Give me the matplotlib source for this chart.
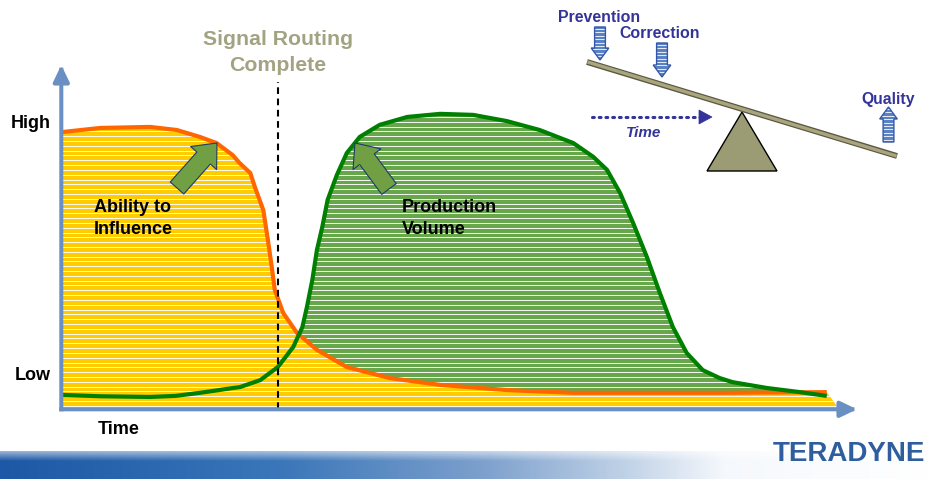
import numpy as np
import matplotlib
matplotlib.use('Agg')
import matplotlib.pyplot as plt
from matplotlib.patches import Polygon, FancyArrowPatch

plt.rcParams['font.family'] = ['Liberation Sans', 'DejaVu Sans']

# ---------------- data (time 0..100, level 0..100) ----------------
ability_t = [0, 5.0, 11.5, 15.0, 18.0, 20.2, 22.3, 23.2, 24.6, 25.2, 26.3, 26.9,
             27.4, 27.8, 28.9, 30.7, 33.3, 37.2, 42.8, 49.4, 58.1, 66.8, 86.0, 99.9]
ability_v = [80.5, 81.7, 82.0, 81.1, 79.1, 77.3, 73.8, 71.5, 68.6, 64.5, 57.8, 49.1,
             41.3, 34.6, 27.9, 22.1, 17.2, 12.2, 9.0, 7.0, 5.5, 4.7, 4.7, 4.9]

volume_t = [0, 5.0, 11.5, 14.8, 18.0, 23.3, 25.9, 28.2, 30.2, 31.4, 32.0, 32.7,
            33.3, 34.0, 34.7, 35.9, 37.2, 38.9, 41.5, 45.1, 49.4, 53.7, 58.1, 62.4,
            66.8, 69.4, 71.2, 72.9, 74.6, 76.4, 78.1, 79.8, 81.6, 83.7, 85.9, 87.6,
            92.1, 96.4, 99.9]
volume_v = [4.1, 3.7, 3.5, 3.8, 4.7, 6.4, 8.4, 12.2, 18.0, 23.8, 29.7, 37.5,
            46.2, 52.9, 60.8, 68.0, 74.4, 79.1, 82.6, 84.9, 85.8, 85.5, 83.7, 81.1,
            77.3, 73.3, 69.5, 62.8, 54.1, 44.2, 33.7, 23.8, 16.3, 11.3, 9.0, 7.8,
            6.1, 4.9, 3.8]

routing_time = 28.2
y_labels = ['High', 'Low']
x_label = 'Time'

# ---------------- styles ----------------
W, H = 929, 479
YELLOW = '#FFCC00'
ORANGE = '#FF6600'
GREEN_LINE = '#008000'
GREEN_FILL = '#68A64C'
AXIS = '#6A8FC3'
NAVY = '#333399'
OLIVE_TXT = '#A3A384'
ARROW_GREEN = '#70A043'

fig = plt.figure(figsize=(W / 100, H / 100), dpi=100)
fig.patch.set_facecolor('white')

ax = fig.add_axes([61.3 / W, (H - 409.3) / H, (857 - 61.3) / W, (409.3 - 65) / H])
ax.set_xlim(-0.09, 103.85)
ax.set_ylim(-0.09, 100)
ax.axis('off')

stripe_y = np.arange(0.9, 100, 1.4)

# production volume area
gpoly = ax.fill(np.r_[volume_t, volume_t[-1], volume_t[0]], np.r_[volume_v, 0, 0],
                color=GREEN_FILL, lw=0, zorder=1)[0]
lc = ax.hlines(stripe_y, -1, 105, colors='white', lw=0.65, zorder=2)
lc.set_clip_path(gpoly)

# ability to influence area
ypoly = ax.fill(np.r_[ability_t, ability_t[-1] + 1.6, ability_t[0]], np.r_[ability_v, 0, 0],
                color=YELLOW, lw=0, zorder=3)[0]
lc2 = ax.hlines(stripe_y, -1, 105, colors='white', lw=0.65, zorder=4)
lc2.set_clip_path(ypoly)

ax.plot(ability_t, ability_v, color=ORANGE, lw=3, zorder=5,
        solid_joinstyle='round', solid_capstyle='butt')
ax.plot(volume_t, volume_v, color=GREEN_LINE, lw=3, zorder=6,
        solid_joinstyle='round', solid_capstyle='butt')

ax.plot([routing_time, routing_time], [0, 95.1], color='black', lw=1.5,
        dashes=(3.2, 2.2), zorder=7)

# axes arrows
for xy in [(0, 1), (1, 0)]:
    ax.annotate('', xy=xy, xytext=(0, 0), xycoords='axes fraction',
                textcoords='axes fraction', annotation_clip=False,
                arrowprops=dict(arrowstyle='-|>,head_length=1.0,head_width=0.48',
                                color=AXIS, lw=2.9, shrinkA=0, shrinkB=0,
                                mutation_scale=10, capstyle='projecting'),
                zorder=8)

# ---------------- overlay (pixel coords) ----------------
ov = fig.add_axes([0, 0, 1, 1])
ov.set_xlim(0, W)
ov.set_ylim(H, 0)
ov.axis('off')
ov.patch.set_alpha(0)

# bottom band gradient
xs = np.linspace(0, 1, 400)
stops_x = [0.0, 0.3, 0.52, 0.68, 0.78, 1.0]
stops_c = np.array([[28, 88, 165], [58, 118, 185], [125, 160, 205],
                    [195, 212, 232], [245, 248, 252], [255, 255, 255]]) / 255.0
row = np.stack([np.interp(xs, stops_x, stops_c[:, i]) for i in range(3)], axis=1)
vy = np.linspace(0, 1, 30)
vfac = np.clip(vy / 0.35, 0, 1)[:, None, None] * 0.55 + 0.45
img = 1 - (1 - row[None, :, :]) * vfac
ov.imshow(img, extent=(0, W, 479, 451), aspect='auto', zorder=0, interpolation='bilinear')

# logo
ov.text(849, 454, 'TERADYNE', ha='center', va='center', fontsize=20, fontweight='bold',
        color='#2F5E9E')

# axis labels
ov.text(51, 123, y_labels[0], ha='right', va='center', fontsize=13, fontweight='bold')
ov.text(51, 375, y_labels[1], ha='right', va='center', fontsize=13, fontweight='bold')
ov.text(98, 429, x_label, ha='left', va='center', fontsize=13, fontweight='bold')

# area labels
ov.text(94, 207, 'Ability to', ha='left', va='center', fontsize=13, fontweight='bold')
ov.text(94, 229, 'Influence', ha='left', va='center', fontsize=13, fontweight='bold')
ov.text(402, 207, 'Production', ha='left', va='center', fontsize=13, fontweight='bold')
ov.text(402, 229, 'Volume', ha='left', va='center', fontsize=13, fontweight='bold')

ov.text(278, 39, 'Signal Routing', ha='center', va='center', fontsize=15.3,
        fontweight='bold', color=OLIVE_TXT)
ov.text(278, 65, 'Complete', ha='center', va='center', fontsize=15.3,
        fontweight='bold', color=OLIVE_TXT)

# green block arrows
for tail, tip in [((177, 188), (217, 143)), ((389, 189), (355, 143))]:
    ov.add_patch(FancyArrowPatch(tail, tip,
                                 arrowstyle='simple,head_length=1.45,head_width=2.5,tail_width=1.3',
                                 mutation_scale=10, fc=ARROW_GREEN, ec='#1F3A6A', lw=0.8,
                                 shrinkA=0, shrinkB=0, zorder=9))

# seesaw
ov.plot([587, 897], [62, 156], color='#5A5842', lw=4.2, solid_capstyle='butt', zorder=3)
ov.plot([587.5, 896.5], [62, 156], color='#A9A57D', lw=2.4, solid_capstyle='butt', zorder=4)
ov.add_patch(Polygon([(742, 112), (707, 171), (777, 171)], closed=True,
                     fc='#9C9C74', ec='black', lw=1.0, zorder=2))

# time dotted arrow
ov.plot([592, 700], [117, 117], color=NAVY, lw=2.2, linestyle=(0, (0.6, 1.6)),
        dash_capstyle='round', zorder=3)
ov.add_patch(Polygon([(699, 110), (712, 117), (699, 124)], closed=True, fc=NAVY, ec=NAVY,
                     lw=0.5, zorder=3))
ov.text(644, 133, 'Time', ha='center', va='center', fontsize=11, fontweight='bold',
        style='italic', color=NAVY)


def block_arrow(cx, y_base, y_tip, bw, hw, hl):
    d = 1 if y_tip > y_base else -1
    yh = y_tip - d * hl
    return [(cx - bw, y_base), (cx + bw, y_base), (cx + bw, yh), (cx + hw, yh),
            (cx, y_tip), (cx - hw, yh), (cx - bw, yh)]


for (cx, yb, yt) in [(600, 27, 60), (662, 43, 77), (888.5, 142, 107)]:
    verts = block_arrow(cx, yb, yt, 5.4, 8.8, 12)
    p = Polygon(verts, closed=True, fc='#5B82C4', ec='none', lw=0, zorder=5)
    ov.add_patch(p)
    ys = np.arange(min(yb, yt) + 2.0, max(yb, yt), 3.4)
    sl = ov.hlines(ys, cx - 10, cx + 10, colors='white', lw=0.6, zorder=5.5)
    sl.set_clip_path(p)
    ov.add_patch(Polygon(verts, closed=True, fc='none', ec='#3456A8', lw=1.0, zorder=6))

ov.text(599, 17, 'Prevention', ha='center', va='center', fontsize=11.4,
        fontweight='bold', color=NAVY)
ov.text(660, 33, 'Correction', ha='center', va='center', fontsize=11.4,
        fontweight='bold', color=NAVY)
ov.text(888, 99, 'Quality', ha='center', va='center', fontsize=11.3,
        fontweight='bold', color=NAVY)

fig.savefig('out.png', dpi=100)
